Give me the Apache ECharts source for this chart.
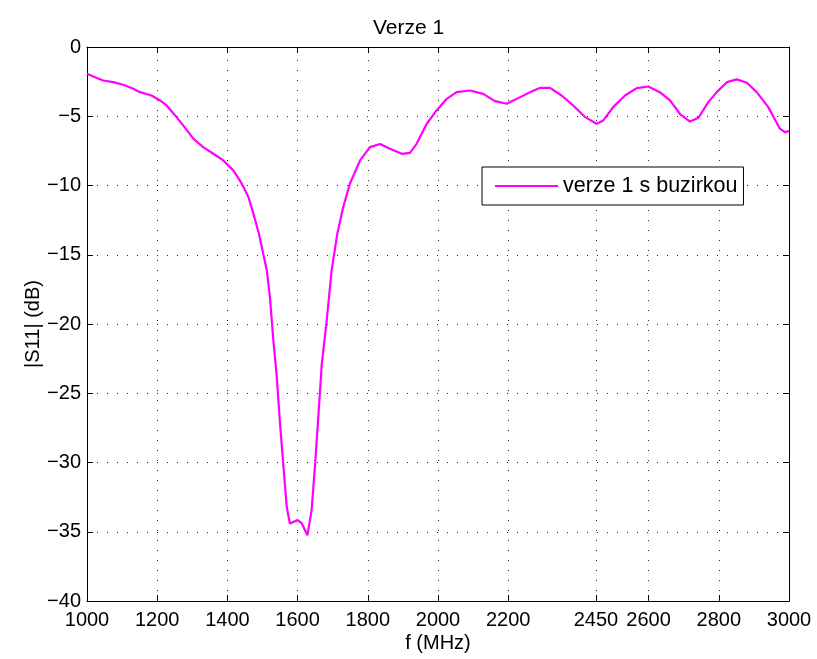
<!DOCTYPE html>
<html>
<head>
<meta charset="utf-8">
<script src="https://cdn.jsdelivr.net/npm/echarts@6/dist/echarts.min.js"></script>
<style>
  html, body { margin: 0; padding: 0; background: #fff; }
  #chart { width: 817px; height: 659px; }
</style>
</head>
<body>
<div id="chart"></div>
<script>
// Measured return loss of version 1 (with feed strip)
const freqMHz = [1000, 1023, 1046, 1075, 1103, 1132, 1151, 1184, 1208, 1227, 1251, 1274, 1303, 1331, 1360, 1388, 1417, 1441, 1460, 1474, 1490, 1512, 1521, 1531, 1540, 1550, 1559, 1569, 1578, 1600, 1612, 1628, 1640, 1650, 1659, 1669, 1683, 1697, 1713, 1730, 1749, 1778, 1806, 1835, 1863, 1897, 1920, 1939, 1968, 1996, 2025, 2053, 2091, 2129, 2162, 2196, 2234, 2262, 2291, 2319, 2352, 2385, 2419, 2452, 2471, 2499, 2533, 2566, 2599, 2632, 2661, 2689, 2718, 2742, 2770, 2794, 2823, 2851, 2880, 2908, 2941, 2974, 2988, 3000];
const s11dB = [-1.93, -2.18, -2.42, -2.54, -2.73, -3.02, -3.26, -3.5, -3.86, -4.22, -4.94, -5.66, -6.62, -7.23, -7.71, -8.19, -8.91, -9.87, -10.84, -12.03, -13.5, -16.1, -18.0, -21.2, -23.6, -27.2, -30.1, -33.2, -34.4, -34.16, -34.4, -35.25, -33.44, -30.07, -26.71, -22.86, -19.73, -16.13, -13.5, -11.56, -9.87, -8.19, -7.23, -7.0, -7.35, -7.71, -7.64, -6.99, -5.54, -4.58, -3.74, -3.26, -3.14, -3.38, -3.91, -4.1, -3.62, -3.26, -2.95, -2.95, -3.5, -4.22, -5.06, -5.54, -5.3, -4.34, -3.5, -2.97, -2.85, -3.26, -3.86, -4.82, -5.38, -5.11, -3.98, -3.26, -2.54, -2.34, -2.58, -3.26, -4.34, -5.9, -6.15, -6.07];
const xTicks = [1000, 1200, 1400, 1600, 1800, 2000, 2200, 2450, 2600, 2800, 3000];
const seriesName = 'verze 1 s buzirkou';

const FONT = 'Liberation Sans, Arial, Helvetica, sans-serif';
const gridDots = { color: '#222', width: 1, type: [1, 9] };

const chart = echarts.init(document.getElementById('chart'), null, { renderer: 'canvas' });

const points = freqMHz.map((f, i) => [f, s11dB[i]]);

const frameAxisLine = { show: true, onZero: false, lineStyle: { color: '#000', width: 1 } };
const tickStyle = { lineStyle: { color: '#000', width: 1 } };

chart.setOption({
  animation: false,
  backgroundColor: '#fff',
  title: {
    text: 'Verze 1',
    left: 'center',
    top: 13,
    textStyle: { fontFamily: FONT, fontSize: 21, fontWeight: 'normal', color: '#000' }
  },
  grid: { left: 87, right: 28, top: 47, bottom: 58, containLabel: false },
  legend: {
    left: 482,
    top: 167,
    icon: 'rect',
    itemWidth: 63,
    itemHeight: 2,
    padding: [8, 6, 8, 13],
    borderColor: '#000',
    borderWidth: 1,
    borderRadius: 0,
    backgroundColor: '#fff',
    textStyle: { fontFamily: FONT, fontSize: 21.5, color: '#000' },
    data: [seriesName]
  },
  xAxis: [
    {
      type: 'value',
      min: 1000,
      max: 3000,
      position: 'bottom',
      name: 'f (MHz)',
      nameLocation: 'middle',
      nameGap: 32,
      nameMoveOverlap: false,
      nameTextStyle: { fontFamily: FONT, fontSize: 20, color: '#000' },
      axisLine: frameAxisLine,
      axisTick: Object.assign({ show: true, inside: true, length: 6, customValues: xTicks }, tickStyle),
      axisLabel: {
        show: true, customValues: xTicks, margin: 9, fontFamily: FONT, fontSize: 20, color: '#000',
        formatter: v => String(v)
      },
      splitLine: { show: false }
    },
    {
      type: 'value',
      min: 1000,
      max: 3000,
      position: 'top',
      axisLine: frameAxisLine,
      axisTick: Object.assign({ show: true, inside: true, length: 6, customValues: xTicks }, tickStyle),
      axisLabel: { show: false },
      splitLine: { show: false }
    }
  ],
  yAxis: [
    {
      type: 'value',
      min: -40,
      max: 0,
      interval: 5,
      position: 'left',
      name: '|S11| (dB)',
      nameLocation: 'middle',
      nameGap: 44,
      nameMoveOverlap: false,
      nameTextStyle: { fontFamily: FONT, fontSize: 20, color: '#000' },
      axisLine: frameAxisLine,
      axisTick: Object.assign({ show: true, inside: true, length: 6 }, tickStyle),
      axisLabel: {
        margin: 6, fontFamily: FONT, fontSize: 20, color: '#000',
        formatter: v => (v < 0 ? '\u2212' + Math.abs(v) : String(v))
      },
      splitLine: { show: true, lineStyle: gridDots }
    },
    {
      type: 'value',
      min: -40,
      max: 0,
      interval: 5,
      position: 'right',
      axisLine: frameAxisLine,
      axisTick: Object.assign({ show: true, inside: true, length: 6 }, tickStyle),
      axisLabel: { show: false },
      splitLine: { show: false }
    }
  ],
  series: [
    {
      name: seriesName,
      type: 'line',
      xAxisIndex: 0,
      yAxisIndex: 0,
      data: points,
      showSymbol: false,
      symbol: 'none',
      smooth: false,
      lineStyle: { color: '#ff00ff', width: 2.2 },
      itemStyle: { color: '#ff00ff' },
      z: 5,
      markLine: {
        silent: true,
        symbol: ['none', 'none'],
        label: { show: false },
        lineStyle: gridDots,
        emphasis: { disabled: true },
        z: 1,
        data: xTicks.filter(v => v > 1000 && v < 3000).map(v => ({ xAxis: v }))
      }
    }
  ]
});
</script>
</body>
</html>
